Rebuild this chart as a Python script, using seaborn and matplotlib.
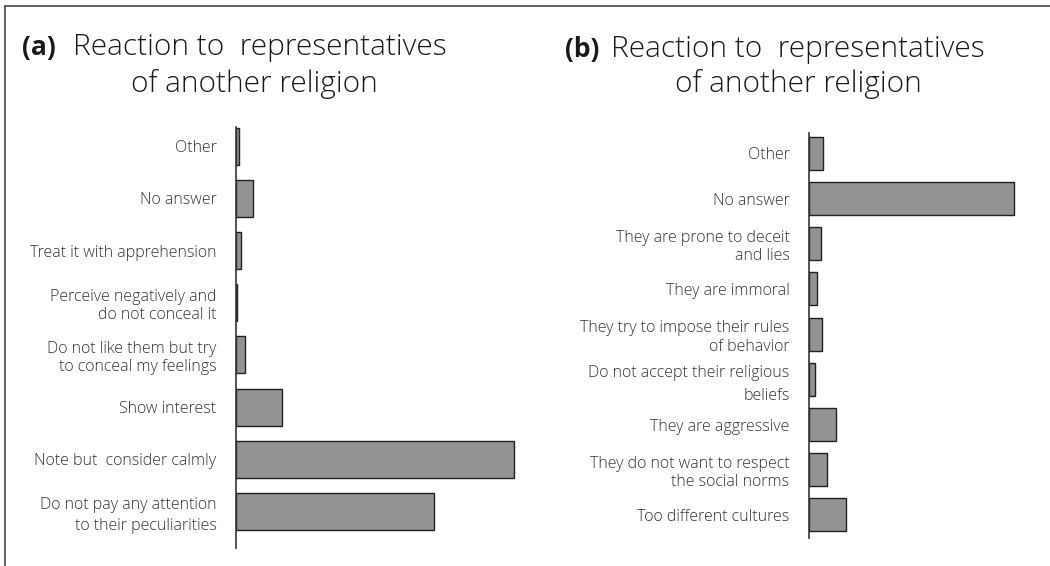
import matplotlib
matplotlib.use("Agg")
import matplotlib.pyplot as plt
import seaborn as sns
import pandas as pd
from matplotlib.lines import Line2D

# Panel (a) data
labels_a = [
    "Other",
    "No answer",
    "Treat it with apprehension",
    "Perceive negatively and\ndo not conceal it",
    "Do not like them but try\nto conceal my feelings",
    "Show interest",
    "Note but  consider calmly",
    "Do not pay any attention\nto their peculiarities",
]
values_a = [0.5, 3.4, 0.9, 0.2, 1.8, 9.2, 55.6, 39.6]

# Panel (b) data
labels_b = [
    "Other",
    "No answer",
    "They are prone to deceit\nand lies",
    "They are immoral",
    "They try to impose their rules\nof behavior",
    "Do not accept their religious\nbeliefs",
    "They are aggressive",
    "They do not want to respect\nthe social norms",
    "Too different cultures",
]
values_b = [2.8, 41.0, 2.4, 1.6, 2.6, 1.2, 5.4, 3.6, 7.4]

sns.set_theme(style="white")
plt.rcParams['font.family'] = ['Open Sans', 'DejaVu Sans']

W, H = 1050, 566
fig = plt.figure(figsize=(10.5, 5.66), dpi=100)

bar_color = "#939396"
edge_color = "#222222"
label_color = "#333333"


def panel(rect, labels, values, xmax, ylim, width):
    ax = fig.add_axes(rect)
    df = pd.DataFrame({"label": labels, "value": values})
    sns.barplot(data=df, y="label", x="value", orient="h", color=bar_color,
                edgecolor=edge_color, linewidth=1.0, width=width,
                saturation=1, ax=ax)
    ax.set_xlim(0, xmax)
    ax.set_ylim(*ylim)
    for s in ["top", "right", "bottom"]:
        ax.spines[s].set_visible(False)
    ax.spines["left"].set_color("#333333")
    ax.spines["left"].set_linewidth(1.2)
    ax.set_xticks([])
    ax.set_xlabel("")
    ax.set_ylabel("")
    ax.tick_params(axis="y", length=0, pad=14, labelsize=11.5, labelcolor=label_color)
    for t in ax.get_yticklabels():
        t.set_fontweight("light")
    return ax


def px_rect(x0, y0, x1, y1):
    return [x0 / W, 1 - y1 / H, (x1 - x0) / W, (y1 - y0) / H]


ax_a = panel(px_rect(236, 127, 546, 548), labels_a, values_a, 62, (7.70, -0.37), 0.71)
ax_b = panel(px_rect(809, 133, 1040, 538), labels_b, values_b, 46.2, (8.51, -0.45), 0.73)
for t in ax_a.get_yticklabels():
    if t.get_text().startswith("Do not pay"):
        t.set_linespacing(1.4)
for t in ax_b.get_yticklabels():
    if t.get_text().startswith("Do not accept"):
        t.set_linespacing(1.55)

# Titles
title_kw = dict(fontsize=21.5, color="#1a1a1a", fontweight="light", va="baseline")
fig.text(22 / W, 1 - 55 / H, "(a)", fontsize=19, fontweight="bold", color="#1a1a1a", va="baseline")
fig.text(260 / W, 1 - 55 / H, "Reaction to  representatives", ha="center", **title_kw)
fig.text(254 / W, 1 - 92 / H, "of another religion", ha="center", **title_kw)
fig.text(565 / W, 1 - 57 / H, "(b)", fontsize=19, fontweight="bold", color="#1a1a1a", va="baseline")
fig.text(798 / W, 1 - 57 / H, "Reaction to  representatives", ha="center", **title_kw)
fig.text(798 / W, 1 - 92 / H, "of another religion", ha="center", **title_kw)

# Frame lines (left and top)
fig.add_artist(Line2D([5 / W, 5 / W], [0, 1 - 6 / H], color="#444444", lw=1.2))
fig.add_artist(Line2D([5 / W, 1], [1 - 6 / H, 1 - 6 / H], color="#444444", lw=1.2))

fig.savefig("out.png", dpi=100)
